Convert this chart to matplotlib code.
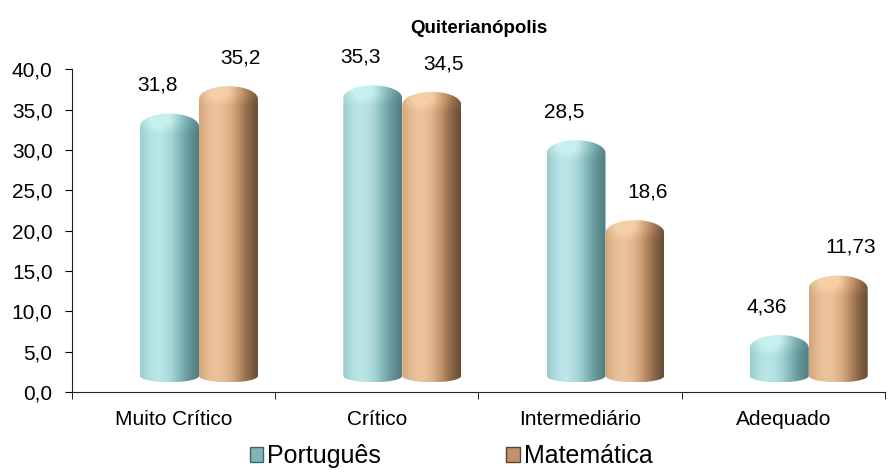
import numpy as np
import matplotlib
matplotlib.use('Agg')
import matplotlib.pyplot as plt
from matplotlib.path import Path
from matplotlib.patches import PathPatch, Patch
from matplotlib.colors import LinearSegmentedColormap

plt.rcParams['font.family'] = ['Liberation Sans', 'DejaVu Sans']

categorias = ['Muito Crítico', 'Crítico', 'Intermediário', 'Adequado']
series = ['Português', 'Matemática']
portugues = [31.8, 35.3, 28.5, 4.36]
matematica = [35.2, 34.5, 18.6, 11.73]
rotulos_port = ['31,8', '35,3', '28,5', '4,36']
rotulos_mat = ['35,2', '34,5', '18,6', '11,73']

cm_teal = LinearSegmentedColormap.from_list(
    'teal', [(0.30, 0.47, 0.48), (0.52, 0.73, 0.74), (0.78, 0.94, 0.94)])
cm_tan = LinearSegmentedColormap.from_list(
    'tan', [(0.38, 0.28, 0.19), (0.76, 0.57, 0.41), (0.96, 0.81, 0.65)])


def cylinder(ax, x0, w, value, cmap, base=1.2, lift=2.7, cap_h=1.6, bot_h=0.8):
    """cilindro 'falso 3D': corpo com gradiente e topo arredondado"""
    top = value + lift
    xc = x0 + w / 2
    t1 = np.linspace(np.pi, 2 * np.pi, 40)
    t2 = np.linspace(0, np.pi, 40)
    xs = np.concatenate([xc + w / 2 * np.cos(t1), xc + w / 2 * np.cos(t2)])
    ys = np.concatenate([base + bot_h + bot_h * np.sin(t1),
                         top - cap_h + cap_h * np.sin(t2)])
    verts = np.column_stack([xs, ys])
    verts = np.vstack([verts, verts[:1]])
    codes = [Path.MOVETO] + [Path.LINETO] * (len(verts) - 2) + [Path.CLOSEPOLY]
    patch = PathPatch(Path(verts, codes), facecolor='none', edgecolor='none')
    ax.add_patch(patch)

    nx, ny = 120, 300
    u = np.linspace(0, 1, nx)
    yy = np.linspace(base, top, ny)
    prof = 0.3 + 0.6 * np.exp(-((u - 0.3) / 0.42) ** 2)
    prof = prof - 0.3 * np.clip(u - 0.55, 0, 1) / 0.45
    img = np.tile(prof, (ny, 1))
    # face superior mais clara
    d = (top - yy) / cap_h
    cap = np.clip(1.6 - d, 0, 1) * 0.22
    img = img + cap[:, None] * (1 - np.abs(u - 0.45) * 1.2)[None, :]
    img = np.clip(img, 0, 1)
    im = ax.imshow(img, cmap=cmap, vmin=0, vmax=1, origin='lower',
                   extent=[x0, x0 + w, base, top], aspect='auto',
                   interpolation='bilinear', zorder=3)
    im.set_clip_path(patch)


fig = plt.figure(figsize=(8.93, 4.74), dpi=100)
ax = fig.add_axes([0.0806, 0.173, 0.9104, 0.681])

x = np.arange(len(categorias))
w = 0.29
for i in range(len(categorias)):
    cylinder(ax, x[i] - 0.165, w, portugues[i], cm_teal)
    cylinder(ax, x[i] - 0.165 + w, w, matematica[i], cm_tan)
    ax.text(x[i] - 0.08, portugues[i] + 6.2, rotulos_port[i], ha='center',
            va='center', fontsize=15, clip_on=False, zorder=2)
    ax.text(x[i] + 0.33, matematica[i] + 6.2, rotulos_mat[i], ha='center',
            va='center', fontsize=15, clip_on=False, zorder=2)

ax.set_xlim(-0.5, 3.5)
ax.set_ylim(0, 40)
ax.set_yticks(np.arange(0, 41, 5))
ax.set_yticklabels([f'{v:.1f}'.replace('.', ',') for v in np.arange(0, 41, 5)],
                   fontsize=15)
ax.set_xticks(x)
ax.set_xticklabels(categorias, fontsize=15)
ax.set_xticks(np.arange(-0.5, 3.6, 1), minor=True)
ax.tick_params(axis='x', which='major', length=0, pad=13)
ax.tick_params(axis='x', which='minor', length=5, direction='out')
ax.tick_params(axis='y', length=5, direction='out', pad=9)
ax.spines['top'].set_visible(False)
ax.spines['right'].set_visible(False)
ax.spines['left'].set_color('#222222')
ax.spines['bottom'].set_color('#222222')

fig.text(0.536, 0.94, 'Quiterianópolis', ha='center', va='center',
         fontsize=13.5, fontweight='bold')

handles = [Patch(facecolor='#7fb5b7', edgecolor='#3f6667'),
           Patch(facecolor='#c4926a', edgecolor='#5c4330')]
fig.legend(handles, series, loc='lower center', bbox_to_anchor=(0.505, -0.035),
           ncol=2, frameon=False, fontsize=18, handlelength=0.55,
           handleheight=0.55, handletextpad=0.15, columnspacing=5)

fig.savefig('out.png', dpi=100)
